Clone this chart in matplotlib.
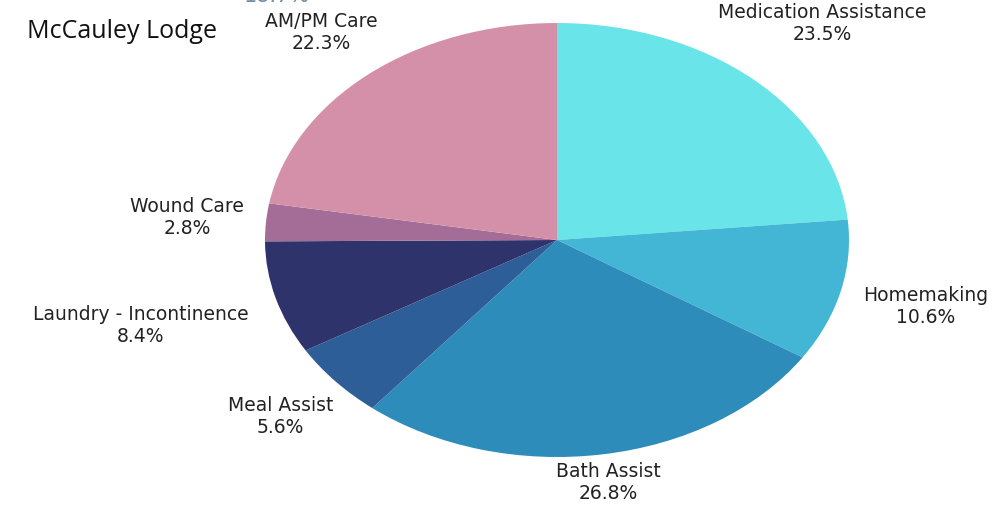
import matplotlib
matplotlib.use("Agg")
import matplotlib.pyplot as plt
import numpy as np

categories = ["Medication Assistance", "Homemaking", "Bath Assist", "Meal Assist",
              "Laundry - Incontinence", "Wound Care", "AM/PM Care"]
values = [23.5, 10.6, 26.8, 5.6, 8.4, 2.8, 22.3]
colors = ["#69e4e8", "#43b6d6", "#2e8cba", "#2d5e98", "#2f336b", "#a36d97", "#d590a9"]
label_dist = [1.35, 1.30, 1.13, 1.25, 1.48, 1.27, 1.25]
title = "McCauley Lodge"
stray_label = "18.7%"

W, H = 1002, 508
fig = plt.figure(figsize=(W / 100, H / 100), dpi=100)
ax = fig.add_axes([0, 0, 1, 1])
cx, cy, rx, ry = 557, 240, 292, 217
ax.pie(values, colors=colors, startangle=90, counterclock=False, radius=1,
       wedgeprops=dict(linewidth=0))
ax.set_aspect("auto")
ax.set_xlim(-cx / rx, (W - cx) / rx)
ax.set_ylim(-(H - cy) / ry, cy / ry)
ax.axis("off")

font = "DejaVu Sans"
cum = np.cumsum([0] + values[:-1])
for cat, v, c0, d in zip(categories, values, cum, label_dist):
    ang = np.deg2rad(90 - 360 * (c0 + v / 2) / 100)
    ax.text(d * np.cos(ang), d * np.sin(ang), f"{cat}\n{v:.1f}%",
            ha="center", va="center", fontsize=13.5, family=font,
            color="#222222", linespacing=1.2)

fig.text(27 / W, 1 - 31 / H, title, ha="left", va="center", fontsize=18,
         family="Open Sans", color="#111111")
fig.text(277 / W, 1 - 2 / H, stray_label, ha="center", va="baseline", fontsize=15,
         family=font, color="#6f8ea6")

fig.savefig("out.png", dpi=100)
